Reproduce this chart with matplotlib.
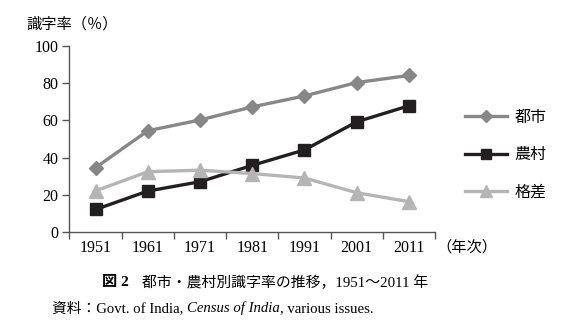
import matplotlib
matplotlib.use("Agg")
import matplotlib.pyplot as plt
from matplotlib.lines import Line2D

years = ["1951", "1961", "1971", "1981", "1991", "2001", "2011"]
urban = [34.6, 54.4, 60.2, 67.2, 73.1, 80.3, 84.1]
rural = [12.1, 22.0, 27.0, 35.8, 44.1, 59.2, 67.8]
gap = [22.1, 32.4, 33.2, 31.4, 29.0, 21.1, 16.3]
series_names = ["都市", "農村", "格差"]
yticks = [0, 20, 40, 60, 80, 100]

FAM = ["Liberation Serif", "Noto Sans CJK JP"]
plt.rcParams["font.family"] = FAM

fig = plt.figure(figsize=(5.65, 3.3), dpi=100)
ax = fig.add_axes([0.123, 0.297, 0.647, 0.564])

x = list(range(len(years)))
styles = [
    (urban, "#878787", "D", 7.5),
    (rural, "#231f20", "s", 8.5),
    (gap, "#b5b5b5", "^", 9.5),
]
handles = []
for (vals, col, mk, ms), name in zip(styles, series_names):
    ax.plot(x, vals, color=col, lw=2.4, marker=mk, ms=ms, mec=col, mfc=col, zorder=3)
    handles.append(Line2D([0], [0], color=col, lw=2.4, marker=mk, ms=ms * 0.85, mec=col, mfc=col))

ax.set_xlim(-0.5, len(years) - 0.5)
ax.set_ylim(0, 100)
ax.set_yticks(yticks)
ax.set_yticklabels([str(v) for v in yticks], fontsize=11.5)
ax.set_xticks([i - 0.5 for i in range(len(years) + 1)], minor=False)
ax.set_xticklabels([])
ax.set_xticks(x, minor=True)
ax.set_xticklabels(years, minor=True, fontsize=11.5)
ax.tick_params(axis="x", which="major", direction="out", length=5, width=1, color="#555555")
ax.tick_params(axis="x", which="minor", length=0, pad=6)
ax.tick_params(axis="y", direction="out", length=5, width=1, color="#555555", pad=3)
for s in ["top", "right"]:
    ax.spines[s].set_visible(False)
for s in ["left", "bottom"]:
    ax.spines[s].set_color("#555555")
    ax.spines[s].set_linewidth(1.0)

leg = fig.legend(handles, series_names, loc="center left", bbox_to_anchor=(0.823, 0.53),
                 frameon=False, fontsize=11.5, handlelength=2.6, labelspacing=1.35,
                 handletextpad=0.5, borderaxespad=0.0, borderpad=0.0)

fig.text(0.047, 0.925, "識字率（％）", fontsize=11, ha="left", va="center")
fig.text(0.772, 0.252, "（年次）", fontsize=11, ha="left", va="center")
fig.text(0.181, 0.143, "図 2", fontsize=11, fontweight="bold", ha="left", va="center")
fig.text(0.252, 0.143, "都市・農村別識字率の推移，1951～2011 年", fontsize=10.7, ha="left", va="center")
fig.text(0.092, 0.065, "資料：Govt. of India, ", fontsize=10.6, ha="left", va="center")
fig.canvas.draw()
r = fig.canvas.get_renderer()
bb = fig.texts[-1].get_window_extent(r)
x1 = bb.x1 / fig.bbox.width
t = fig.text(x1, 0.065, "Census of India", fontsize=10.6, style="italic", ha="left", va="center")
bb2 = t.get_window_extent(r)
fig.text(bb2.x1 / fig.bbox.width, 0.065, ", various issues.", fontsize=10.6, ha="left", va="center")

fig.savefig("out.png", dpi=100)
